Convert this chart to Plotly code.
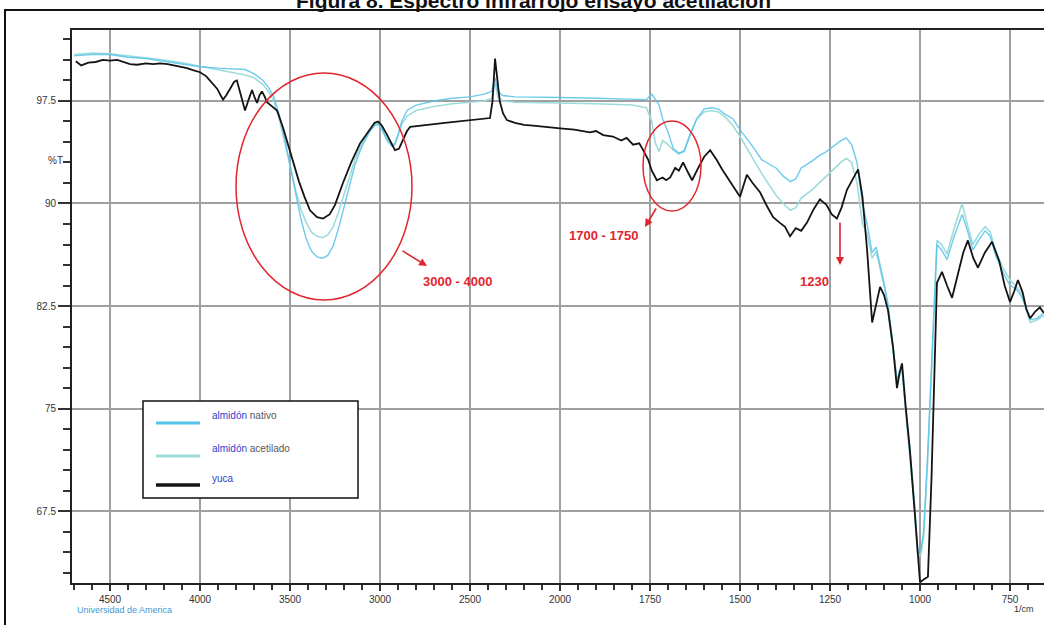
import numpy as np
import plotly.graph_objects as go

# ---- spectra: wavenumber (1/cm) and transmittance (%T) ----
wn_yuca = [4690, 4660, 4620, 4580, 4540, 4500, 4460, 4420, 4389, 4350, 4300, 4260, 4222, 4180,
           4140, 4100, 4072, 4040, 4000, 3965, 3933, 3905, 3885, 3872, 3855, 3830, 3810, 3795,
           3775, 3750, 3730, 3711, 3695, 3683, 3670, 3656, 3640, 3628, 3600, 3572, 3540, 3510,
           3483, 3450, 3420, 3389, 3350, 3317, 3280, 3250, 3206, 3160, 3111, 3060, 3030, 3011,
           2990, 2960, 2935, 2917, 2895, 2872, 2850, 2833, 2780, 2700, 2640, 2556, 2480, 2420,
           2389, 2375, 2365, 2361, 2350, 2335, 2317, 2295, 2250, 2200, 2150, 2095, 2040, 2000,
           1960, 1917, 1900, 1880, 1853, 1830, 1815, 1797, 1780, 1769, 1755, 1745, 1731, 1715,
           1705, 1694, 1680, 1670, 1658, 1645, 1633, 1620, 1600, 1583, 1565, 1550, 1536, 1520,
           1500, 1490, 1481, 1465, 1455, 1444, 1425, 1408, 1390, 1375, 1361, 1345, 1330, 1314,
           1295, 1278, 1260, 1245, 1231, 1218, 1203, 1190, 1172, 1160, 1147, 1133, 1120, 1111,
           1100, 1089, 1075, 1064, 1057, 1050, 1040, 1028, 1015, 1005, 1000, 990, 978, 968, 960,
           953, 946, 939, 925, 911, 895, 880, 867, 852, 839, 820, 800, 780, 765, 750, 738, 728,
           715, 705, 694, 680, 667, 656]
t_yuca = [100.4, 100.1, 100.3, 100.35, 100.5, 100.45, 100.5, 100.3, 100.2, 100.15, 100.25, 100.2,
          100.25, 100.2, 100.1, 100.0, 99.9, 99.75, 99.6, 99.3, 98.8, 98.4, 97.9, 97.6, 97.9, 98.5,
          98.9, 99.0, 98.0, 96.8, 97.6, 98.3, 97.7, 97.35, 97.9, 98.2, 97.8, 97.4, 97.1, 96.8, 95.6,
          94.3, 93.0, 91.6, 90.5, 89.5, 89.0, 88.9, 89.2, 89.9, 91.5, 93.0, 94.4, 95.4, 95.9, 96.0,
          95.7, 95.0, 94.3, 93.9, 94.0, 94.65, 95.3, 95.6, 95.7, 95.8, 95.9, 96.0, 96.1, 96.2,
          96.25, 97.5, 99.5, 100.6, 99.3, 97.5, 96.6, 96.1, 95.9, 95.75, 95.7, 95.6, 95.55, 95.5,
          95.4, 95.2, 95.3, 95.0, 94.9, 94.6, 94.8, 94.3, 94.4, 93.9, 93.2, 92.4, 91.7, 91.9,
          91.7, 91.9, 92.6, 92.4, 93.0, 92.3, 91.7, 92.4, 93.4, 93.9, 93.2, 92.5, 91.9, 91.3,
          90.5, 91.4, 92.1, 91.5, 91.2, 90.8, 89.8, 89.0, 88.6, 88.3, 87.6, 88.2, 88.0, 88.6,
          89.6, 90.3, 89.9, 89.2, 88.9, 89.7, 91.0, 91.6, 92.5, 90.5, 86.6, 81.3, 82.8, 83.9,
          83.3, 82.2, 79.5, 76.5, 77.6, 78.3, 75.2, 71.9, 67.5, 63.5, 62.3, 62.5, 62.7, 70.0, 78.0,
          84.2, 84.6, 85.0, 84.0, 83.1, 84.8, 86.4, 87.3, 86.0, 85.3, 86.4, 87.2, 85.8, 84.0,
          82.8, 83.6, 84.4, 83.5, 82.3, 81.6, 82.1, 82.4, 82.0]

wn_blue = [4700, 4600, 4500, 4400, 4300, 4200, 4100, 4000, 3900, 3800, 3750, 3700, 3650, 3620,
           3590, 3560, 3530, 3500, 3470, 3440, 3410, 3380, 3350, 3320, 3290, 3260, 3230, 3200,
           3170, 3140, 3100, 3060, 3030, 3010, 2990, 2960, 2935, 2917, 2900, 2880, 2850, 2800,
           2700, 2600, 2500, 2420, 2380, 2361, 2345, 2320, 2250, 2100, 2000, 1900, 1800, 1760,
           1745, 1735, 1725, 1715, 1700, 1685, 1670, 1655, 1640, 1620, 1600, 1580, 1560, 1540,
           1520, 1500, 1480, 1460, 1440, 1420, 1400, 1380, 1360, 1345, 1330, 1300, 1280, 1260,
           1240, 1220, 1205, 1190, 1175, 1160, 1147, 1133, 1122, 1111, 1100, 1089, 1075, 1064,
           1057, 1050, 1040, 1028, 1015, 1006, 998, 990, 980, 970, 960, 953, 940, 925, 905, 883,
           868, 853, 835, 819, 805, 790, 770, 750, 735, 720, 705, 694, 675, 656]
t_nativo = [100.8, 100.9, 100.9, 100.7, 100.6, 100.4, 100.2, 100.0, 99.9, 99.8, 99.8, 99.5, 99.0,
            98.5, 97.8, 96.5, 94.8, 92.8, 90.8, 88.9, 87.4, 86.5, 86.1, 86.0, 86.2, 86.9, 88.2,
            89.8, 91.4, 92.8, 94.2, 95.2, 95.7, 95.8, 95.4, 94.6, 94.2, 94.3, 95.0, 96.0, 96.8,
            97.2, 97.5, 97.7, 97.8, 98.0, 98.2, 99.2, 98.2, 97.9, 97.8, 97.8, 97.75, 97.7, 97.6,
            97.6, 98.0, 97.6, 97.2, 96.2, 95.2, 94.0, 93.7, 93.8, 94.9, 96.2, 96.9, 97.0, 96.9,
            96.5, 96.2, 95.4, 94.7, 94.0, 93.2, 92.9, 92.6, 92.0, 91.6, 91.8, 92.6, 93.1, 93.5,
            93.8, 94.2, 94.6, 94.8, 94.3, 93.0, 90.0, 88.5, 86.4, 86.8, 85.6, 84.2, 82.7, 79.8,
            77.1, 77.6, 78.0, 75.0, 72.0, 68.0, 64.4, 64.6, 66.0, 71.0, 77.0, 83.0, 87.0, 86.6,
            85.9, 87.6, 89.2, 88.0, 86.6, 87.4, 88.0, 87.6, 86.2, 85.0, 84.0, 83.8, 83.3, 82.4,
            81.5, 81.6, 82.0]
t_acetilado = [100.9, 101.0, 100.95, 100.8, 100.7, 100.5, 100.3, 100.05, 99.8, 99.5, 99.4, 99.2,
               98.7, 98.2, 97.5, 96.2, 94.6, 92.8, 91.0, 89.6, 88.6, 87.9, 87.6, 87.5, 87.7,
               88.3, 89.4, 90.7, 92.0, 93.2, 94.4, 95.3, 95.8, 95.9, 95.5, 94.7, 94.3, 94.4,
               95.0, 95.8, 96.4, 96.8, 97.1, 97.3, 97.4, 97.5, 97.7, 98.8, 97.8, 97.5, 97.4,
               97.4, 97.35, 97.3, 97.2, 97.0, 96.0, 94.4, 93.8, 94.6, 94.3, 93.9, 93.6, 93.9,
               95.0, 96.2, 96.7, 96.8, 96.7, 96.3, 95.7, 94.9, 94.0, 93.0, 92.2, 91.4, 90.6,
               90.0, 89.5, 89.7, 90.4, 91.0, 91.5, 92.0, 92.5, 93.0, 93.3, 93.0, 91.5, 88.5,
               87.8, 86.0, 86.5, 85.2, 84.0, 82.4, 79.5, 77.0, 77.4, 77.8, 74.8, 71.6, 67.6,
               64.2, 64.3, 65.6, 70.5, 76.5, 82.8, 87.3, 87.0, 86.3, 88.2, 90.0, 88.4, 87.0,
               87.8, 88.3, 87.9, 86.5, 85.3, 84.4, 84.0, 83.5, 82.2, 81.3, 81.5, 81.8]

x_tick_labels = [4500, 4000, 3500, 3000, 2500, 2000, 1750, 1500, 1250, 1000, 750]
y_tick_values = [67.5, 75, 82.5, 90, 97.5]


def axis_pos(wn):
    """Instrument x scale: 2x compressed above 2000 1/cm."""
    wn = np.asarray(wn, dtype=float)
    return np.where(wn <= 2000, wn, 2000 + (wn - 2000) / 2.0)


# plot-area geometry (pixels) used to place the overlay marks
L, R, T, B = 72, 1044, 30, 583


def px(xp):
    return (xp - L) / (R - L)


def py(yp):
    return (B - yp) / (B - T)


C_NAT = "#56c3ec"
C_ACE = "#9edcdc"
C_YUC = "#141414"
RED = "#e2262f"

fig = go.Figure()
fig.add_trace(go.Scatter(x=axis_pos(wn_blue), y=t_acetilado, mode="lines", name="acetilado",
                         line=dict(color=C_ACE, width=1.6), showlegend=False))
fig.add_trace(go.Scatter(x=axis_pos(wn_blue), y=t_nativo, mode="lines", name="nativo",
                         line=dict(color=C_NAT, width=1.4), showlegend=False, opacity=0.85))
fig.add_trace(go.Scatter(x=axis_pos(wn_yuca), y=t_yuca, mode="lines", name="yuca",
                         line=dict(color=C_YUC, width=1.8), showlegend=False))

tick_font = dict(family="Liberation Sans Narrow, Liberation Sans, Arial", size=10, color="#333")

fig.update_xaxes(
    range=[3355.6, 655.6], tickmode="array",
    tickvals=list(axis_pos(x_tick_labels)), ticktext=[str(v) for v in x_tick_labels],
    showgrid=True, gridcolor="#a0a0a0", gridwidth=1.5,
    showline=True, linecolor="#222", linewidth=2, mirror=True,
    ticks="outside", ticklen=6, tickcolor="#333", tickwidth=1.5,
    minor=dict(tickmode="linear", tick0=0, dtick=50, ticks="outside", ticklen=5,
               tickcolor="#333", tickwidth=1.5, showgrid=False),
    tickfont=tick_font, zeroline=False,
)
fig.update_yaxes(
    range=[62.24, 102.69], tickmode="array", tickvals=y_tick_values,
    ticktext=[("%g" % v) for v in y_tick_values],
    showgrid=True, gridcolor="#a0a0a0", gridwidth=1.5,
    showline=True, linecolor="#222", linewidth=2,
    ticks="outside", ticklen=12, tickcolor="#333", tickwidth=1.5,
    minor=dict(tickmode="linear", tick0=0, dtick=1.5, ticks="outside", ticklen=7,
               tickcolor="#333", tickwidth=1.5, showgrid=False),
    tickfont=tick_font, zeroline=False,
)

shapes = [
    # outer frame
    dict(type="rect", xref="paper", yref="paper", x0=px(5), x1=px(1060), y0=py(640), y1=py(10),
         line=dict(color="#111", width=2), layer="above"),
    # highlight ellipses
    dict(type="circle", xref="paper", yref="paper", x0=px(236), x1=px(412), y0=py(300), y1=py(73),
         line=dict(color=RED, width=1.5)),
    dict(type="circle", xref="paper", yref="paper", x0=px(643), x1=px(701), y0=py(211), y1=py(121),
         line=dict(color=RED, width=1.5)),
    # legend box
    dict(type="rect", xref="paper", yref="paper", x0=px(143), x1=px(358), y0=py(498), y1=py(401),
         line=dict(color="#111", width=1.5), fillcolor="white", layer="above"),
    dict(type="line", xref="paper", yref="paper", x0=px(156), x1=px(200), y0=py(423), y1=py(423),
         line=dict(color=C_NAT, width=3), layer="above"),
    dict(type="line", xref="paper", yref="paper", x0=px(156), x1=px(200), y0=py(456), y1=py(456),
         line=dict(color=C_ACE, width=3), layer="above"),
    dict(type="line", xref="paper", yref="paper", x0=px(156), x1=px(200), y0=py(485), y1=py(485),
         line=dict(color=C_YUC, width=3.5), layer="above"),
]

red_font = dict(family="Liberation Sans, Arial", size=13, color=RED)
annotations = [
    # title (runs off the top of the page)
    dict(text="<b>Figura 8. Espectro infrarrojo ensayo acetilación</b>", xref="paper", yref="paper",
         x=px(533), y=py(14), xanchor="center", yanchor="bottom", showarrow=False,
         font=dict(family="Liberation Sans, Arial", size=21, color="#111")),
    dict(text="%T", xref="paper", yref="paper", x=px(46), y=py(153), showarrow=False,
         font=dict(family="Liberation Sans Narrow, Liberation Sans", size=10, color="#333")),
    dict(text="1/cm", xref="paper", yref="paper", x=px(1036), y=py(616), showarrow=False,
         font=dict(family="Liberation Sans Narrow, Liberation Sans", size=9, color="#333")),
    dict(text="Universidad de America", xref="paper", yref="paper", x=px(75), y=py(617),
         xanchor="left", showarrow=False,
         font=dict(family="Liberation Sans Narrow, Liberation Sans", size=9, color="#3a9ad6")),
    # legend labels
    dict(text="<span style='color:#2c3fcf'>almidón</span> nativo", xref="paper", yref="paper",
         x=px(210), y=py(423), xanchor="left", showarrow=False,
         font=dict(family="Liberation Sans, Arial", size=10, color="#555")),
    dict(text="<span style='color:#2c3fcf'>almidón</span> acetilado", xref="paper", yref="paper",
         x=px(210), y=py(456), xanchor="left", showarrow=False,
         font=dict(family="Liberation Sans, Arial", size=10, color="#555")),
    dict(text="<span style='color:#2c3fcf'>yuca</span>", xref="paper", yref="paper",
         x=px(210), y=py(486), xanchor="left", showarrow=False,
         font=dict(family="Liberation Sans, Arial", size=10, color="#555")),
    # band labels
    dict(text="<b>3000 - 4000</b>", xref="paper", yref="paper", x=px(457), y=py(281),
         showarrow=False, font=red_font),
    dict(text="<b>1700 - 1750</b>", xref="paper", yref="paper", x=px(603), y=py(236),
         showarrow=False, font=red_font),
    dict(text="<b>1230</b>", xref="paper", yref="paper", x=px(831), y=py(281),
         showarrow=False, font=red_font),
]

# arrows: (head x, head y, tail x, tail y) in pixels
arrows = [(427, 266, 401, 250), (645, 227, 657, 207), (840, 265, 840, 221)]
for hx, hy, tx, ty in arrows:
    annotations.append(dict(text="", xref="paper", yref="paper", x=px(hx), y=py(hy),
                            ax=tx - hx, ay=ty - hy, showarrow=True, arrowhead=2, arrowsize=1,
                            arrowwidth=1.6, arrowcolor=RED))

fig.update_layout(
    width=1044, height=625,
    margin=dict(l=L, r=1044 - R, t=T, b=625 - B),
    paper_bgcolor="white", plot_bgcolor="white",
    shapes=shapes, annotations=annotations,
    showlegend=False,
)

fig.write_html("out.html")
